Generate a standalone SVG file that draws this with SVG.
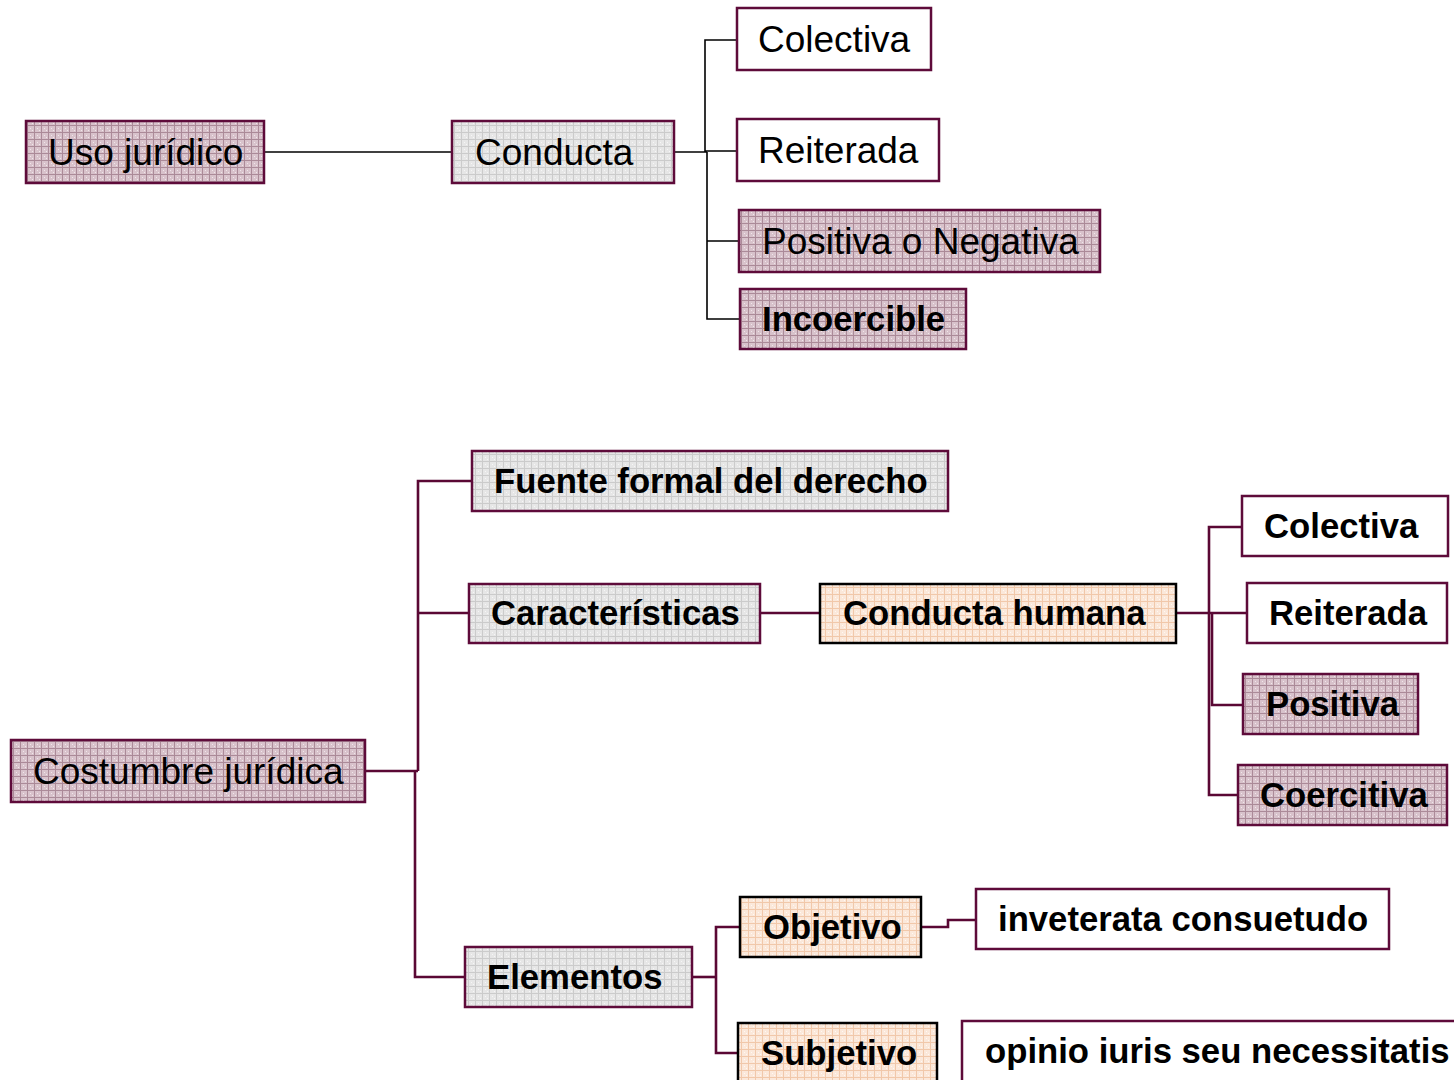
<svg xmlns="http://www.w3.org/2000/svg" width="1454" height="1080" viewBox="0 0 1454 1080">
<style>
text{font-family:"Liberation Sans",Arial,sans-serif;fill:#000}
.r{font-size:37px}
.b{font-size:34.7px;font-weight:bold}
.box{stroke:#5e0b3a;stroke-width:2.5}
.blk{stroke:#000;stroke-width:2.5}
.ct{stroke:#000;fill:none;stroke-width:1.6}
.cb{stroke:#5a0834;fill:none;stroke-width:2.6}
</style>
<defs>
<pattern id="mauve" width="7" height="7" patternUnits="userSpaceOnUse">
<rect width="7" height="7" fill="#d8c2cb"/>
<rect x="2" y="2" width="1" height="1" fill="#f0e6ea"/>
<rect x="4" y="4" width="1" height="1" fill="#f0e6ea"/>
<path d="M0 6.5H7M6.5 0V7" stroke="#ab8a98" stroke-width="1"/>
</pattern>
<pattern id="gray" width="7" height="7" patternUnits="userSpaceOnUse">
<rect width="7" height="7" fill="#e6e6e6"/>
<rect x="2" y="2" width="1" height="1" fill="#f6f6f6"/>
<rect x="4" y="4" width="1" height="1" fill="#f6f6f6"/>
<path d="M0 6.5H7M6.5 0V7" stroke="#cbcbcb" stroke-width="1"/>
</pattern>
<pattern id="peach" width="7" height="7" patternUnits="userSpaceOnUse">
<rect width="7" height="7" fill="#fbe8da"/>
<rect x="2" y="2" width="1" height="1" fill="#fff8f2"/>
<rect x="4" y="4" width="1" height="1" fill="#fff8f2"/>
<path d="M0 6.5H7M6.5 0V7" stroke="#f1c8aa" stroke-width="1"/>
</pattern>
</defs>

<g id="connectors">
<path class="ct" d="M264 152H452"/>
<path class="ct" stroke-width="2.6" d="M674 152H707"/>
<path class="ct" d="M705 152V40H737M705 151H737"/>
<path class="ct" stroke-width="2" d="M707 152V319H740M707 241H739"/>
<path class="cb" stroke-width="3" d="M365 771H418"/>
<path class="cb" stroke-width="2" d="M418 613V481H472"/>
<path class="cb" stroke-width="3.4" d="M418 771V613"/>
<path class="cb" stroke-width="2" d="M418 613H469"/>
<path class="cb" d="M415 771V977H465"/>
<path class="cb" d="M760 613H820"/>
<path class="cb" d="M1176 613H1212"/>
<path class="cb" d="M1242 527H1209V795H1238"/>
<path class="cb" d="M1212 613V705H1243M1212 613H1247"/>
<path class="cb" d="M692 977H716"/>
<path class="cb" d="M740 927H716V1053H738"/>
<path class="cb" d="M921 927H948V920H976"/>
</g>

<g id="n-uso"><rect class="box" x="26" y="121" width="238" height="62" fill="url(#mauve)"/><text class="r" x="48" y="165">Uso jurídico</text></g>
<g id="n-conducta"><rect class="box" x="452" y="121" width="222" height="62" fill="url(#gray)"/><text class="r" x="475" y="165">Conducta</text></g>
<g id="n-colectiva1"><rect class="box" x="737" y="8" width="194" height="62" fill="#fff"/><text class="r" x="758" y="52">Colectiva</text></g>
<g id="n-reiterada1"><rect class="box" x="737" y="119" width="202" height="62" fill="#fff"/><text class="r" x="758" y="163">Reiterada</text></g>
<g id="n-posneg"><rect class="box" x="739" y="210" width="361" height="62" fill="url(#mauve)"/><text class="r" x="762" y="254">Positiva o Negativa</text></g>
<g id="n-incoercible"><rect class="box" x="740" y="289" width="226" height="60" fill="url(#mauve)"/><text class="b" x="762" y="331">Incoercible</text></g>

<g id="n-costumbre"><rect class="box" x="11" y="740" width="354" height="62" fill="url(#mauve)"/><text class="r" x="33" y="784">Costumbre jurídica</text></g>
<g id="n-fuente"><rect class="box" x="472" y="451" width="476" height="60" fill="url(#gray)"/><text class="b" x="494" y="493">Fuente formal del derecho</text></g>
<g id="n-caracteristicas"><rect class="box" x="469" y="584" width="291" height="59" fill="url(#gray)"/><text class="b" x="491" y="625">Características</text></g>
<g id="n-conductahumana"><rect class="blk" x="820" y="584" width="356" height="59" fill="url(#peach)"/><text class="b" x="843" y="625">Conducta humana</text></g>
<g id="n-colectiva2"><rect class="box" x="1242" y="496" width="206" height="60" fill="#fff"/><text class="b" x="1264" y="538">Colectiva</text></g>
<g id="n-reiterada2"><rect class="box" x="1247" y="583" width="200" height="60" fill="#fff"/><text class="b" x="1269" y="625">Reiterada</text></g>
<g id="n-positiva"><rect class="box" x="1243" y="674" width="175" height="60" fill="url(#mauve)"/><text class="b" x="1266" y="716">Positiva</text></g>
<g id="n-coercitiva"><rect class="box" x="1238" y="765" width="209" height="60" fill="url(#mauve)"/><text class="b" x="1260" y="807">Coercitiva</text></g>
<g id="n-elementos"><rect class="box" x="465" y="947" width="227" height="60" fill="url(#gray)"/><text class="b" x="487" y="989">Elementos</text></g>
<g id="n-objetivo"><rect class="blk" x="740" y="897" width="181" height="60" fill="url(#peach)"/><text class="b" x="763" y="939">Objetivo</text></g>
<g id="n-subjetivo"><rect class="blk" x="738" y="1023" width="199" height="70" fill="url(#peach)"/><text class="b" x="761" y="1065">Subjetivo</text></g>
<g id="n-inveterata"><rect class="box" x="976" y="889" width="413" height="60" fill="#fff"/><text class="b" x="998" y="931">inveterata consuetudo</text></g>
<g id="n-opinio"><rect class="box" x="962" y="1021" width="510" height="70" fill="#fff"/><text class="b" x="985" y="1063">opinio iuris seu necessitatis</text></g>
</svg>
